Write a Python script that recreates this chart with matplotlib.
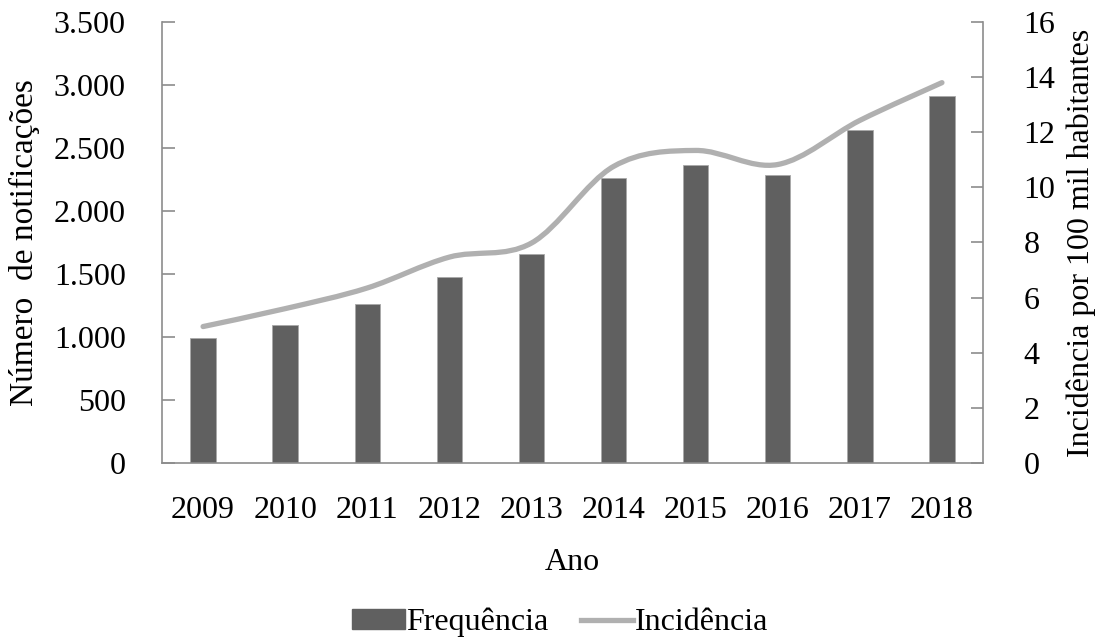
import matplotlib
matplotlib.use("Agg")
import matplotlib.pyplot as plt
from matplotlib.path import Path
from matplotlib.patches import PathPatch, Patch
from matplotlib.lines import Line2D
from matplotlib.ticker import FuncFormatter
import numpy as np

plt.rcParams['font.family'] = ['Liberation Serif', 'DejaVu Serif']

# data
anos = ['2009', '2010', '2011', '2012', '2013', '2014', '2015', '2016', '2017', '2018']
frequencia = [995, 1095, 1260, 1475, 1660, 2260, 2365, 2283, 2645, 2910]
incidencia = [4.95, 5.6, 6.35, 7.47, 7.98, 10.76, 11.34, 10.83, 12.43, 13.8]

bar_color = '#606060'
line_color = '#b0b0b0'
spine_color = '#8c8c8c'
fs = 23

fig = plt.figure(figsize=(11.03, 6.4), dpi=100)
ax = fig.add_axes([0.1469, 0.2766, 0.7443, 0.689])
ax2 = ax.twinx()

x = np.arange(len(anos))
ax.bar(x, frequencia, width=0.31, color=bar_color, edgecolor='#a8a8a8', linewidth=0.6, zorder=2)

# smoothed line (Excel style bezier through the points)
pts = np.column_stack([x, incidencia]).astype(float)
verts = [tuple(pts[0])]
codes = [Path.MOVETO]
n = len(pts)
for i in range(n - 1):
    p0 = pts[max(i - 1, 0)]
    p1 = pts[i]
    p2 = pts[i + 1]
    p3 = pts[min(i + 2, n - 1)]
    c1 = p1 + (p2 - p0) / 6.0
    c2 = p2 - (p3 - p1) / 6.0
    verts += [tuple(c1), tuple(c2), tuple(p2)]
    codes += [Path.CURVE4] * 3
ax2.add_patch(PathPatch(Path(verts, codes), facecolor='none', edgecolor=line_color,
                        linewidth=3.8, capstyle='round', zorder=3))

ax.set_xlim(-0.5, 9.5)
ax.set_ylim(0, 3500)
ax2.set_ylim(0, 16)
ax.set_xticks(x)
ax.set_xticklabels(anos)
ax.set_yticks(np.arange(0, 3501, 500))
ax.yaxis.set_major_formatter(FuncFormatter(lambda v, p: f'{int(v):,}'.replace(',', '.')))
ax2.set_yticks(np.arange(0, 17, 2))

for a in (ax, ax2):
    a.spines['top'].set_visible(False)
    for s in ('left', 'right', 'bottom'):
        a.spines[s].set_color(spine_color)
        a.spines[s].set_linewidth(1.2)
ax.spines['right'].set_visible(False)
ax2.spines['left'].set_visible(False)
ax2.spines['bottom'].set_visible(False)

ax.tick_params(axis='y', direction='in', length=9, width=1.2, color=spine_color, labelsize=fs, pad=26)
ax.tick_params(axis='x', length=0, labelsize=fs, pad=24)
ax2.tick_params(axis='y', direction='in', length=9, width=1.2, color=spine_color, labelsize=fs, pad=29)

ax.set_ylabel('Número  de notificações', fontsize=fs + 1, labelpad=10)
ax2.set_ylabel('Incidência por 100 mil habitantes', fontsize=fs, labelpad=8)
ax.set_xlabel('Ano', fontsize=fs, labelpad=16)

handles = [Patch(facecolor=bar_color, edgecolor=bar_color),
           Line2D([0], [0], color=line_color, linewidth=3.8)]
fig.legend(handles, ['Frequência', 'Incidência'], loc='center', bbox_to_anchor=(0.508, 0.027),
           ncol=2, frameon=False, fontsize=fs, handlelength=1.65, handletextpad=0.05,
           columnspacing=1.0, handleheight=0.6)

fig.savefig('out.png', dpi=100)
